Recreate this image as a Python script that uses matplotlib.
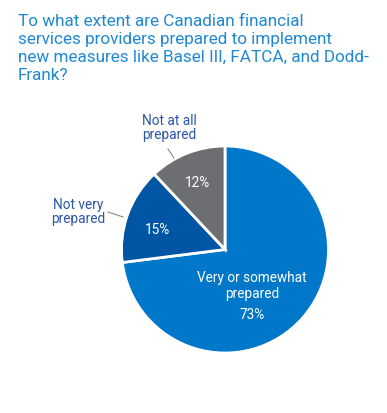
import matplotlib
matplotlib.use('Agg')
import matplotlib.pyplot as plt

# Daten
categories = ["Very or somewhat\nprepared", "Not very\nprepared", "Not at all\nprepared"]
shares = [73, 15, 12]
pct_labels = ["73%", "15%", "12%"]
colors = ["#0077c8", "#0055a4", "#6d6e71"]

title = ("To what extent are Canadian financial\n"
         "services providers prepared to implement\n"
         "new measures like Basel III, FATCA, and Dodd-\n"
         "Frank?")

plt.rcParams['font.family'] = ['Roboto', 'DejaVu Sans']

W, H = 387, 413
fig = plt.figure(figsize=(W / 100, H / 100), dpi=100)
ax = fig.add_axes([0, 0, 1, 1])

cx, cy, r = 225, H - 249.5, 103.5
wedges, _ = ax.pie(shares, colors=colors, startangle=90, counterclock=False,
                   center=(cx, cy), radius=r, frame=True,
                   wedgeprops=dict(edgecolor='white', linewidth=2))
ax.set_xlim(0, W)
ax.set_ylim(0, H)
ax.set_aspect('equal')
ax.axis('off')

# Titel
fig.text(18 / W, 1 - 14 / H, title, ha='left', va='top', fontsize=12.3,
         color='#1f88d4', linespacing=1.26)

# Beschriftungen in den Segmenten
ax.text(252, H - 286, categories[0], ha='center', va='center', color='white',
        fontsize=9.8, linespacing=1.12)
ax.text(252, H - 315, pct_labels[0], ha='center', va='center', color='white', fontsize=9.8)
ax.text(157, H - 230, pct_labels[1], ha='center', va='center', color='white', fontsize=9.8)
ax.text(198, H - 183, pct_labels[2], ha='center', va='center', color='white', fontsize=9.8)

# Aussenbeschriftungen mit Linien
ax.text(78, H - 212, categories[1], ha='center', va='center', color='#2b55a8',
        fontsize=9.8, linespacing=1.05)
ax.plot([108, 123], [H - 212, H - 217], color='#888888', lw=0.8)
ax.text(169.5, H - 128, categories[2], ha='center', va='center', color='#2b55a8',
        fontsize=9.8, linespacing=1.05)
ax.plot([168, 174], [H - 149, H - 158], color='#888888', lw=0.8)

fig.savefig('out.png', dpi=100, facecolor='white')
